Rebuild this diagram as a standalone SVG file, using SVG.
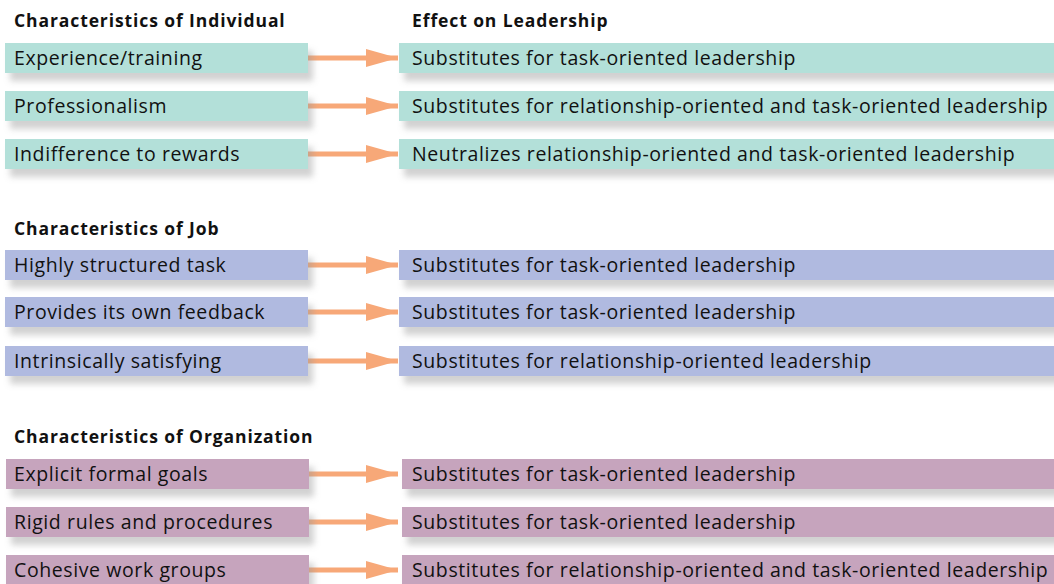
<svg xmlns="http://www.w3.org/2000/svg" width="1054" height="584" viewBox="0 0 1054 584">
<defs>
<filter id="sh" x="-5%" y="-40%" width="115%" height="200%">
<feGaussianBlur in="SourceAlpha" stdDeviation="3"/>
<feOffset dx="5" dy="8" result="b"/>
<feFlood flood-color="#9a9a9a" flood-opacity="0.45"/>
<feComposite in2="b" operator="in"/>
<feMerge><feMergeNode/><feMergeNode in="SourceGraphic"/></feMerge>
</filter>
<marker id="ah" markerUnits="userSpaceOnUse" markerWidth="32" markerHeight="20" refX="32" refY="10" orient="auto">
<path d="M0,1 L32,10 L0,19 Z" fill="#f7a878"/>
</marker>
</defs>
<style>
text{font-family:"Open Sans","DejaVu Sans",sans-serif;fill:#111}
.h{font-size:17.5px;font-weight:bold;letter-spacing:0.9px}
.t{font-size:19.5px;letter-spacing:0.6px}
.ind{fill:#b3e0d9}
.job{fill:#b0bae0}
.org{fill:#c6a4bd}
.box{filter:url(#sh)}
.ar{stroke:#f7a878;stroke-width:5;fill:none;marker-end:url(#ah)}
</style>
<rect width="1054" height="584" fill="#fff"/>
<g id="headers">
<text class="h" x="14" y="27">Characteristics of Individual</text>
<text class="h" x="412" y="27">Effect on Leadership</text>
<text class="h" x="14" y="235">Characteristics of Job</text>
<text class="h" x="14" y="443">Characteristics of Organization</text>
</g>
<g id="connectors">
<line class="ar" x1="308" y1="58" x2="398" y2="58"/>
<line class="ar" x1="308" y1="106" x2="398" y2="106"/>
<line class="ar" x1="308" y1="154" x2="398" y2="154"/>
<line class="ar" x1="308" y1="265" x2="398" y2="265"/>
<line class="ar" x1="308" y1="312" x2="398" y2="312"/>
<line class="ar" x1="308" y1="361" x2="398" y2="361"/>
<line class="ar" x1="309" y1="474" x2="398" y2="474"/>
<line class="ar" x1="309" y1="522" x2="398" y2="522"/>
<line class="ar" x1="309" y1="570" x2="398" y2="570"/>
</g>
<g id="n-exp"><rect class="box ind" x="5" y="43" width="303" height="30"/><text class="t" x="14" y="65">Experience/training</text></g>
<g id="n-prof"><rect class="box ind" x="5" y="91" width="303" height="30"/><text class="t" x="14" y="113">Professionalism</text></g>
<g id="n-indif"><rect class="box ind" x="5" y="139" width="303" height="30"/><text class="t" x="14" y="161">Indifference to rewards</text></g>
<g id="e-exp"><rect class="box ind" x="399" y="43" width="660" height="30"/><text class="t" x="412" y="65">Substitutes for task-oriented leadership</text></g>
<g id="e-prof"><rect class="box ind" x="399" y="91" width="660" height="30"/><text class="t" x="412" y="113">Substitutes for relationship-oriented and task-oriented leadership</text></g>
<g id="e-indif"><rect class="box ind" x="399" y="139" width="660" height="30"/><text class="t" x="412" y="161">Neutralizes relationship-oriented and task-oriented leadership</text></g>
<g id="n-struct"><rect class="box job" x="5" y="250" width="303" height="30"/><text class="t" x="14" y="272">Highly structured task</text></g>
<g id="n-feed"><rect class="box job" x="5" y="297" width="303" height="30"/><text class="t" x="14" y="319">Provides its own feedback</text></g>
<g id="n-intr"><rect class="box job" x="5" y="346" width="303" height="30"/><text class="t" x="14" y="368">Intrinsically satisfying</text></g>
<g id="e-struct"><rect class="box job" x="399" y="250" width="660" height="30"/><text class="t" x="412" y="272">Substitutes for task-oriented leadership</text></g>
<g id="e-feed"><rect class="box job" x="399" y="297" width="660" height="30"/><text class="t" x="412" y="319">Substitutes for task-oriented leadership</text></g>
<g id="e-intr"><rect class="box job" x="399" y="346" width="660" height="30"/><text class="t" x="412" y="368">Substitutes for relationship-oriented leadership</text></g>
<g id="n-goals"><rect class="box org" x="6" y="459" width="303" height="30"/><text class="t" x="14" y="481">Explicit formal goals</text></g>
<g id="n-rules"><rect class="box org" x="6" y="507" width="303" height="30"/><text class="t" x="14" y="529">Rigid rules and procedures</text></g>
<g id="n-coh"><rect class="box org" x="6" y="555" width="303" height="30"/><text class="t" x="14" y="577">Cohesive work groups</text></g>
<g id="e-goals"><rect class="box org" x="402" y="459" width="660" height="30"/><text class="t" x="412" y="481">Substitutes for task-oriented leadership</text></g>
<g id="e-rules"><rect class="box org" x="402" y="507" width="660" height="30"/><text class="t" x="412" y="529">Substitutes for task-oriented leadership</text></g>
<g id="e-coh"><rect class="box org" x="402" y="555" width="660" height="30"/><text class="t" x="412" y="577">Substitutes for relationship-oriented and task-oriented leadership</text></g>
</svg>
